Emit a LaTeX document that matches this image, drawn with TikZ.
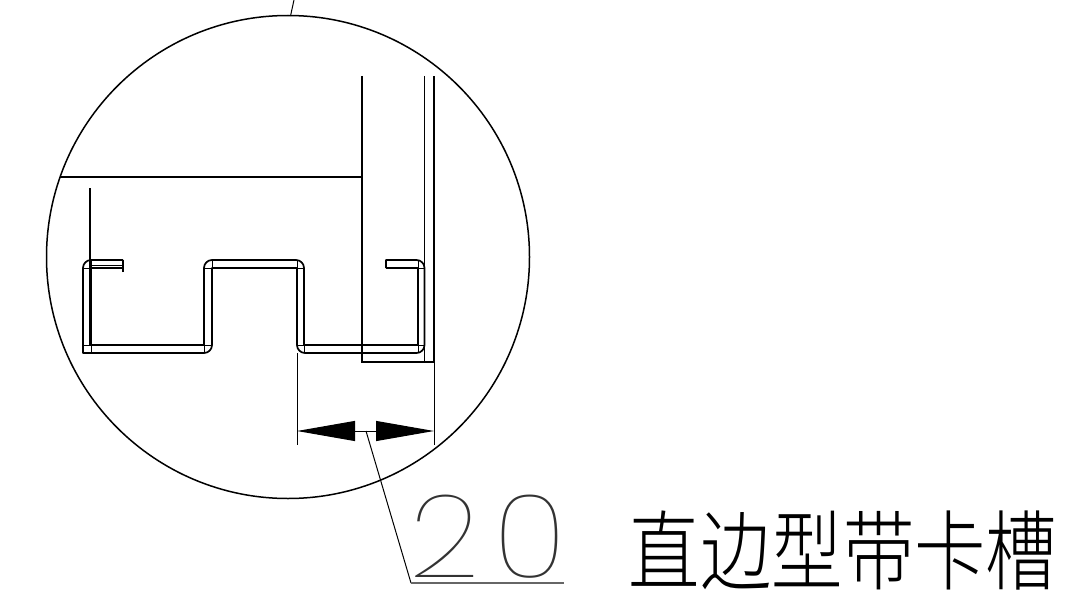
\documentclass[tikz,border=0pt]{standalone}
\usepackage{fontspec}
\newfontfamily\cjk[FakeStretch=.82]{Noto Sans CJK SC Light}
\newfontfamily\dimfont[FakeStretch=1.07,LetterSpace=12]{Poppins Thin}
\usetikzlibrary{arrows.meta}
\tikzset{>=stealth,x=1pt,y=-1pt}
\tikzset{thin line/.style={line width=1pt},
    sheet/.style={line width=1.7pt,line join=round},
    wall/.style={line width=2.4pt},
    dim arrow/.style={line width=1pt,{Triangle[length=58pt,width=20pt]}-{Triangle[length=58pt,width=20pt]}},
    leader/.style={line width=1.2pt,black!60}}

\begin{document}
\begin{tikzpicture}
    \useasboundingbox (0,0) rectangle (1088,602);
    \coordinate (leaderTop) at (294,0);
    \coordinate (leaderEnd) at (290.5,16);
    \draw[line width=1.5pt] (288,257) circle (241.5);
    \draw[thin line] (leaderTop) -- (leaderEnd);
    % walls
    \draw[wall] (60,177) -- (362,177);
    \draw[wall] (362,76) -- (362,362) -- (434,362) -- (434,76);
    \draw[sheet] (424.5,76) -- (424.5,362);
    \draw[sheet] (90,188) -- (90,345);
    % profile of the sheet
    \draw[sheet] (123,260) [rounded corners=8pt] -- (83,260) [sharp corners] -- (83,353) [rounded corners=8pt] -- (212,353) [sharp corners] -- (212,268) -- (297,268)
        [rounded corners=8pt] -- (297,353) -- (424.5,353) -- (424.5,260) [sharp corners] -- (386,260) -- (386,268);
    \draw[sheet] (123,272) -- (123,260);
    \draw[sheet] (123,268) -- (91,268) -- (91,345) -- (204,345) [rounded corners=8pt] -- (204,260) -- (304,260) [sharp corners] -- (304,345) -- (418,345) -- (418,268) -- (386,268);
    \draw[sheet] (91,265.5) -- (122,265.5);
    % bend lines
    \foreach \ox/\oy/\ix/\iy in {83/260/91/268, 83/353/91/345, 212/353/204/345, 204/260/212/268,
        304/260/297/268, 297/353/304/345, 424/353/418/345, 424/260/418/268}
        \draw[thin line] (\ox,\iy) -- (\ix,\iy) -- (\ix,\oy);
    % dimension
    \coordinate (dimL) at (297,431);
    \coordinate (dimR) at (434,431);
    \coordinate (leaderA) at (366,431);
    \coordinate (leaderB) at (411,583);
    \coordinate (leaderC) at (564,583);
    \draw[thin line] (297,353) -- (297,445);
    \draw[thin line] (434,362) -- (434,445);
    \draw[dim arrow] (dimL) -- (dimR);
    \draw[thin line] (leaderA) -- (leaderB);
    \draw[leader] (leaderB) -- (leaderC);
    \node[inner sep=0pt,anchor=base,black!80] (dimText) at (488,577) {\dimfont\fontsize{116}{116}\selectfont 20};
    \node[inner sep=0pt] (title) at (843,551) {\cjk\fontsize{87}{87}\selectfont 直边型带卡槽};
\end{tikzpicture}
\end{document}
